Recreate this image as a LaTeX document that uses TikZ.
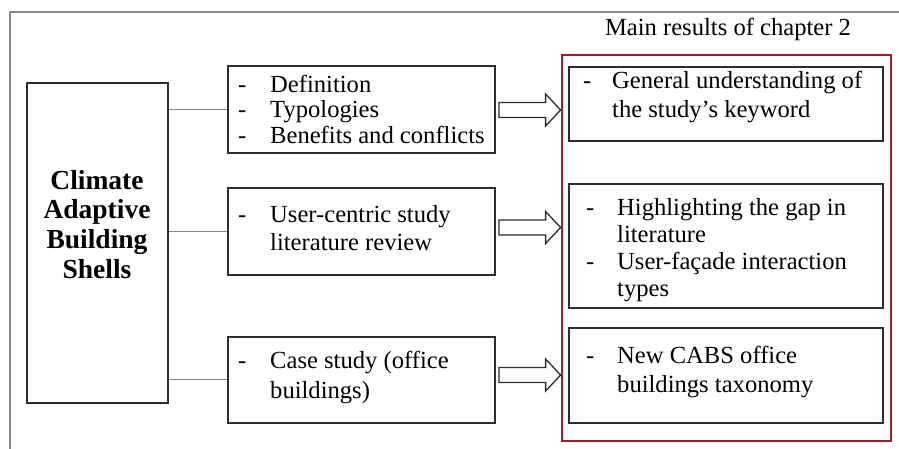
\documentclass[tikz,border=0pt]{standalone}
\usepackage{fontspec}
\setmainfont{Liberation Serif}
\usetikzlibrary{calc}
\definecolor{framegray}{RGB}{135,135,135}
\definecolor{boxline}{RGB}{45,45,45}
\definecolor{resred}{RGB}{160,30,38}
\newcommand\itemtext[2]{\fontsize{24.6}{#1}\selectfont\begin{tabular}[t]{@{}p{#2pt}@{}l@{}}}
\newcommand\fatarrow[2]{%
  \draw[blockarrow] ($(#1)+(0,-7.5)$) -- ($(#2)+(-15,-7.5)$) -- ($(#2)+(-15,-16)$)
    -- (#2) -- ($(#2)+(-15,16)$) -- ($(#2)+(-15,7.5)$) -- ($(#1)+(0,7.5)$) -- cycle;}
\begin{document}
\begin{tikzpicture}[x=1pt,y=-1pt,
  box/.style={draw=boxline,line width=1.5pt,rectangle,inner sep=0pt},
  conn/.style={draw=framegray,line width=1pt},
  blockarrow/.style={draw=boxline,line width=1.3pt,fill=white,line join=miter},
  txt/.style={inner sep=0pt,anchor=base west}]
\useasboundingbox (0,0) rectangle (899,448);
\clip (0,0) rectangle (899,448);
% outer frame
\draw[framegray,line width=1.5pt] (10,470) -- (10,12) -- (910,12);

% central topic
\node[box,minimum width=141,minimum height=320] (main) at (97.5,243) {};
\node[inner sep=0pt,anchor=base] (maintxt) at (97,189)
  {\fontsize{27.5}{29.7}\selectfont\bfseries\begin{tabular}[t]{@{}c@{}}Climate\\Adaptive\\Building\\Shells\end{tabular}};

% study inputs
\node[box,minimum width=267,minimum height=87] (b1) at (361.5,109.5) {};
\node[box,minimum width=267,minimum height=87] (b2) at (361.5,231.5) {};
\node[box,minimum width=267,minimum height=86] (b3) at (361.5,380) {};
\node[txt] (t1) at (238,92)
  {\itemtext{25.5}{32}- & Definition\\- & Typologies\\- & Benefits and conflicts\end{tabular}};
\node[txt] (t2) at (238,222)
  {\itemtext{28}{32}- & User-centric study\\ & literature review\end{tabular}};
\node[txt] (t3) at (238,368)
  {\itemtext{30}{32}- & Case study (office\\ & buildings)\end{tabular}};

\draw[conn] (main.east |- b1) -- (b1.west);
\draw[conn] (main.east |- b2) -- (b2.west);
\draw[conn] ([yshift=1]main.east |- b3) -- ([yshift=1]b3.west);

% results of the chapter
\node[draw=resred,line width=2.8pt,inner sep=0pt,minimum width=329,minimum height=386] (res) at (726.5,248) {};
\node[inner sep=0pt,anchor=base] (restitle) at (728,35)
  {\fontsize{24.6}{26}\selectfont Main results of chapter 2};
\node[box,minimum width=314,minimum height=74] (r1) at (726,104) {};
\node[box,minimum width=314,minimum height=124] (r2) at (726,246) {};
\node[box,minimum width=314,minimum height=95] (r3) at (726,375.5) {};
\node[txt] (u1) at (583,88)
  {\itemtext{29.5}{29}- & General understanding of\\ & the study’s keyword\end{tabular}};
\node[txt] (u2) at (586,215)
  {\itemtext{27.3}{31}- & Highlighting the gap in\\ & literature\\- & User-façade interaction\\ & types\end{tabular}};
\node[txt] (u3) at (586,363)
  {\itemtext{29}{31}- & New CABS office\\ & buildings taxonomy\end{tabular}};

% hollow arrows towards the results
\coordinate (a1s) at (499,110);  \coordinate (a1t) at (res.west |- a1s);
\coordinate (a2s) at (499,227.5);\coordinate (a2t) at (res.west |- a2s);
\coordinate (a3s) at (499,375);  \coordinate (a3t) at (res.west |- a3s);
\fatarrow{a1s}{a1t}
\fatarrow{a2s}{a2t}
\fatarrow{a3s}{a3t}
\end{tikzpicture}
\end{document}
